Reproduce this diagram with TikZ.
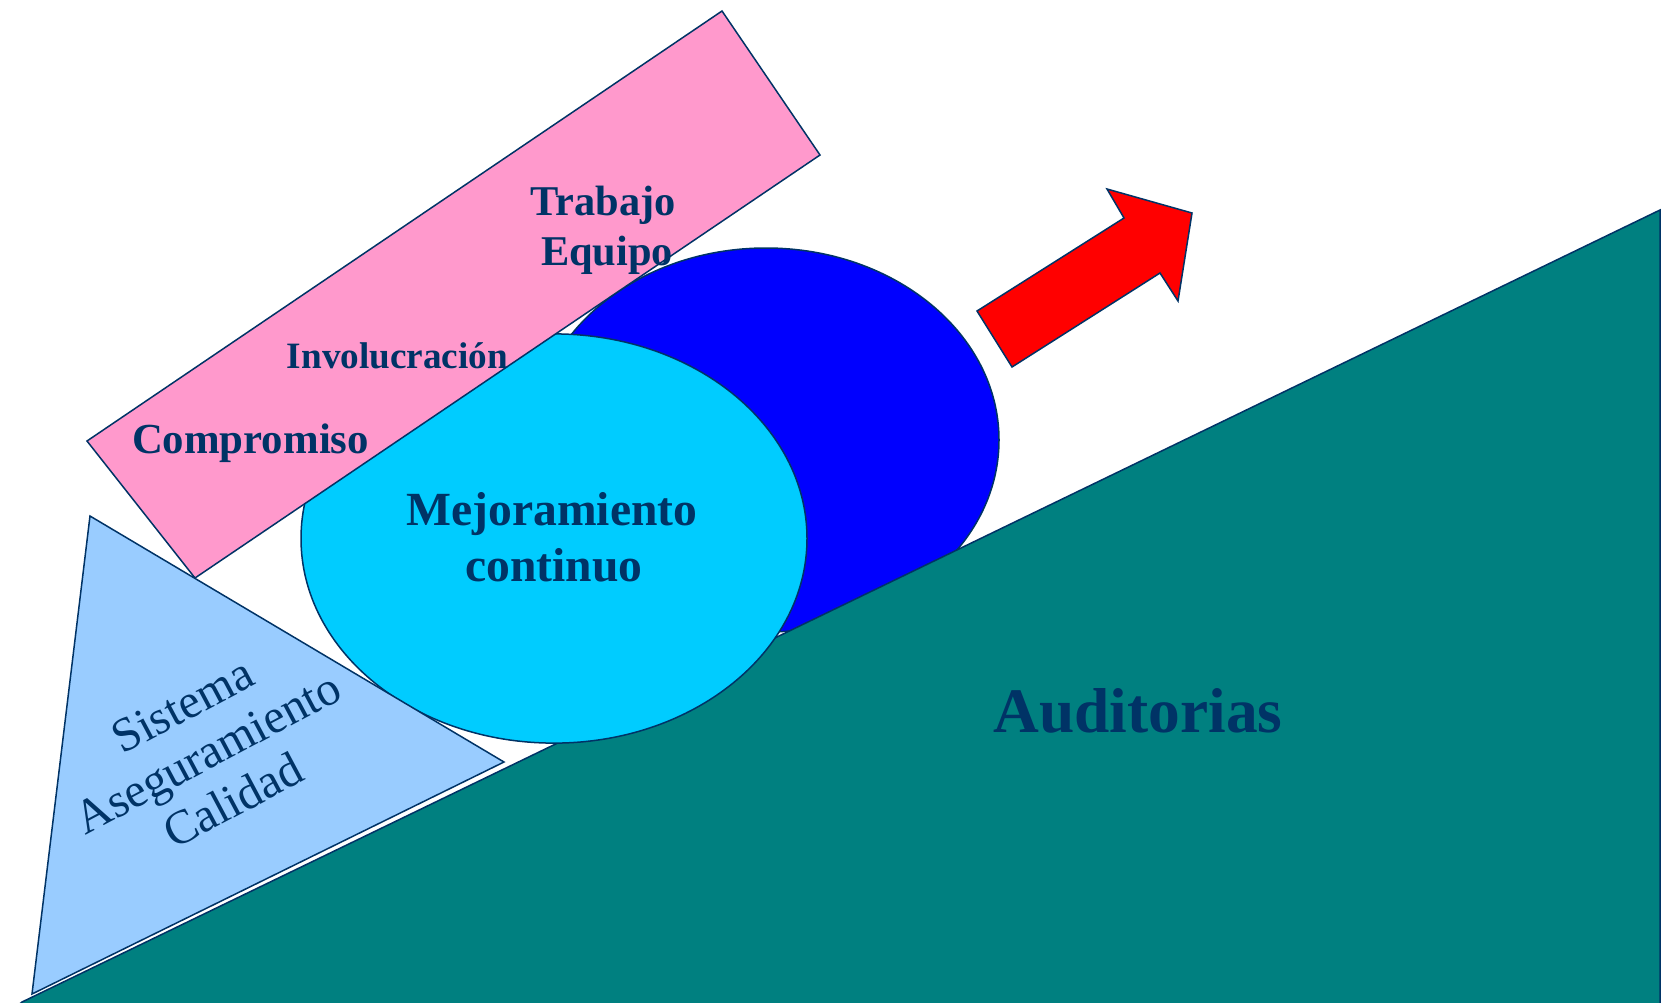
\documentclass[tikz,border=0pt]{standalone}
\usepackage{fontspec}
\setmainfont{Liberation Serif}
\definecolor{outl}{RGB}{0,51,102}
\definecolor{txt}{RGB}{0,51,102}
\definecolor{pinkr}{RGB}{255,153,204}
\definecolor{darkb}{RGB}{0,0,255}
\definecolor{cyanb}{RGB}{0,204,255}
\definecolor{lightb}{RGB}{153,204,255}
\definecolor{tealg}{RGB}{0,128,128}
\definecolor{redarr}{RGB}{255,0,0}
\begin{document}
\begin{tikzpicture}[x=0.5pt,y=-0.5pt,
  figshape/.style={draw=outl,line width=0.75pt,line join=miter},
  lbl/.style={text=txt,inner sep=0pt,anchor=base},
  bold/.style={font=\bfseries\fontsize{#1}{#1}\selectfont},
  rotlbl/.style={text=txt,inner sep=0pt,anchor=base,rotate=28,font=\fontsize{24pt}{24pt}\selectfont}]
\useasboundingbox (0,0) rectangle (1669,1002);
\begin{scope}
\clip (0,0) rectangle (1669,1002);
% dark ellipse
\draw[figshape,fill=darkb] (766,440) ellipse [x radius=233, y radius=192];
% ground
\draw[figshape,fill=tealg] (22,1002) -- (1660,210) -- (1660,1012) -- (10,1012) -- cycle;
% cyan ellipse
\draw[figshape,fill=cyanb] (554,538.5) ellipse [x radius=253, y radius=204.6];
% pink rectangle
\draw[figshape,fill=pinkr] (87,441) -- (722,11) -- (820,155) -- (195,578) -- cycle;
% light triangle
\draw[figshape,fill=lightb] (90,516) -- (504,762) -- (32,994) -- cycle;
% arrow
\draw[figshape,fill=redarr] (977,311) -- (1124,218) -- (1107,189) -- (1192,213) -- (1178,301) -- (1160,273) -- (1012,367) -- cycle;
\end{scope}
% texts
\node[lbl,bold=21.2pt] (trab) at (603,215) {Trabajo};
\node[lbl,bold=21.2pt] (equi) at (607,265) {Equipo};
\node[lbl,bold=18.6pt] (invo) at (397.5,368) {Involucración};
\node[lbl,bold=21.4pt] (comp) at (250.5,453) {Compromiso};
\node[lbl,bold=23.8pt] (mejo) at (552,525) {Mejoramiento};
\node[lbl,bold=23.8pt] (cont) at (554,581.5) {continuo};
\node[lbl,bold=31.7pt] (audi) at (1138,732.5) {Auditorias};
\node[rotlbl] (sis1) at (189.7,719.3) {Sistema};
\node[rotlbl] (sis2) at (215,767) {Aseguramiento};
\node[rotlbl] (sis3) at (240.3,814.7) {Calidad};
\end{tikzpicture}
\end{document}
